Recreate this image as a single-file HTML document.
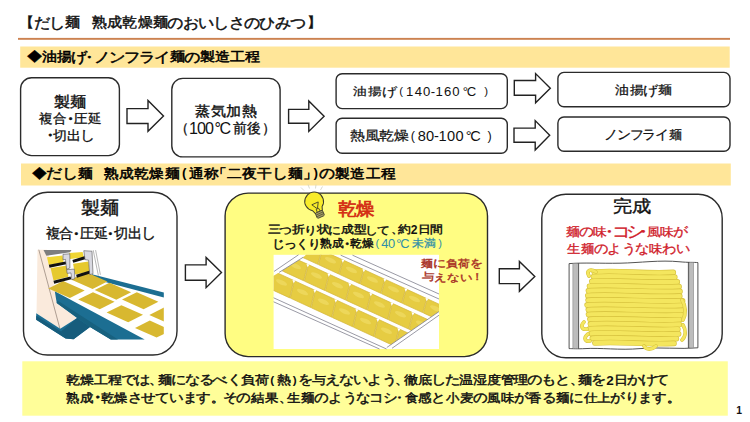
<!DOCTYPE html>
<html lang="ja"><head><meta charset="utf-8"><title>だし麺 熟成乾燥麺のおいしさのひみつ</title>
<style>
html,body{margin:0;padding:0;background:#fff;width:750px;height:422px;overflow:hidden}
svg{display:block;font-family:"Liberation Sans",sans-serif}
</style></head><body>
<svg width="750" height="422" viewBox="0 0 750 422">
<rect x="18" y="37.9" width="712" height="1.9" fill="#CC8250"/>
<rect x="20.2" y="46.5" width="709.5" height="21.2" fill="#FFE699"/>
<rect x="21" y="163.5" width="709.8" height="22" fill="#FFE699"/>
<rect x="20.6" y="77.8" width="98.80" height="77.80" rx="11" ry="11" fill="#fff" stroke="#2b2b2b" stroke-width="1.4"/>
<rect x="171.8" y="78.4" width="108.30" height="78.50" rx="11" ry="11" fill="#fff" stroke="#2b2b2b" stroke-width="1.4"/>
<rect x="336.1" y="73.8" width="171.20" height="34.80" rx="6" ry="6" fill="#fff" stroke="#2b2b2b" stroke-width="1.4"/>
<rect x="336.1" y="118.2" width="171.20" height="35.10" rx="6" ry="6" fill="#fff" stroke="#2b2b2b" stroke-width="1.4"/>
<rect x="557.9" y="72.4" width="172.10" height="34.40" rx="6" ry="6" fill="#fff" stroke="#2b2b2b" stroke-width="1.4"/>
<rect x="557.9" y="117.0" width="172.10" height="34.20" rx="6" ry="6" fill="#fff" stroke="#2b2b2b" stroke-width="1.4"/>
<path d="M127.0,108.6 L148.0,108.6 L148.0,100.4 L163.5,116.0 L148.0,131.3 L148.0,123.5 L127.0,123.5 Z" fill="#fff" stroke="#222" stroke-width="1.4" stroke-linejoin="miter"/>
<path d="M288.6,109.4 L308.8,109.4 L308.8,101.0 L324.1,116.2 L308.8,131.4 L308.8,123.3 L288.6,123.3 Z" fill="#fff" stroke="#222" stroke-width="1.4" stroke-linejoin="miter"/>
<path d="M514.3,80.5 L535.6,80.5 L535.6,73.6 L550.3,88.2 L535.6,102.8 L535.6,95.3 L514.3,95.3 Z" fill="#fff" stroke="#222" stroke-width="1.4" stroke-linejoin="miter"/>
<path d="M514.0,128.1 L535.2,128.1 L535.2,120.6 L549.7,135.3 L535.2,150.0 L535.2,142.3 L514.0,142.3 Z" fill="#fff" stroke="#222" stroke-width="1.4" stroke-linejoin="miter"/>
<rect x="23.5" y="192.3" width="153.50" height="162.70" rx="24" ry="24" fill="#fff" stroke="#2b2b2b" stroke-width="1.4"/>
<rect x="225.1" y="193.1" width="262.40" height="163.50" rx="23" ry="23" fill="#FFFD82" stroke="#2b2b2b" stroke-width="1.4"/>
<rect x="541.8" y="194.3" width="180.40" height="163.50" rx="24" ry="24" fill="#fff" stroke="#2b2b2b" stroke-width="1.4"/>
<path d="M185.4,264.9 L206.1,264.9 L206.1,257.5 L221.5,272.5 L206.1,287.7 L206.1,280.3 L185.4,280.3 Z" fill="#fff" stroke="#222" stroke-width="1.4" stroke-linejoin="miter"/>
<path d="M499.3,268.7 L519.4,268.7 L519.4,261.4 L534.8,276.4 L519.4,291.3 L519.4,283.6 L499.3,283.6 Z" fill="#fff" stroke="#222" stroke-width="1.4" stroke-linejoin="miter"/>
<rect x="22.3" y="361.3" width="705.5" height="54.4" fill="#FFFE99"/>
<g id="machine">
<polygon points="37.5,249.7 47.0,249.7 51.0,262.0 54.0,284.0 54.9,287.8 56.7,302.9 77.1,318.0 60.2,328.7 36.5,313.5 37.0,285.0" fill="#FAEADC"/>
<line x1="38.8" y1="249.7" x2="60" y2="329" stroke="#7a6a60" stroke-width="0.6"/>
<polygon points="53.7,284.1 94.0,276.5 163.8,296.0 163.8,339.5 143.7,339.5 54.8,292.4" fill="#FFFFFF"/>
<polygon points="92.0,274.2 163.8,292.6 163.8,297.6 92.0,278.6" fill="#1C6E92"/>
<polygon points="54.8,291.3 144.7,339.5 110.8,339.5 90.0,327.1 73.6,339.3 65.6,338.4 36.2,319.8 36.2,313.2 60.2,328.7 77.1,318.0 56.7,302.9" fill="#1C6E92"/>
<polygon points="36.2,315.8 61.0,331.6 65.6,338.4 36.2,319.8" fill="#165C7C"/>
<polygon points="77.1,318.0 90.0,327.1 73.6,339.3 65.6,338.4 61.0,331.6" fill="#165C7C"/>
<polygon points="56.7,302.9 90.0,327.1 110.8,339.5 118.0,339.5 57.5,300.5" fill="#17617F"/>
<clipPath id="mclip"><rect x="36" y="249" width="127.8" height="90.5"/></clipPath><g clip-path="url(#mclip)">
<polygon points="48.3,288.4 69.9,298.0 84.7,290.6 63.1,281.0" fill="#D8B830"/>
<polygon points="71.0,279.4 92.6,289.0 107.4,281.6 85.8,272.0" fill="#D8B830"/>
<polygon points="78.2,299.6 99.8,309.2 114.6,301.8 93.0,292.2" fill="#D8B830"/>
<polygon points="94.7,290.1 116.3,299.7 131.1,292.3 109.5,282.7" fill="#D8B830"/>
<polygon points="106.6,312.6 128.2,322.2 143.0,314.8 121.4,305.2" fill="#D8B830"/>
<polygon points="122.0,299.6 143.6,309.2 158.4,301.8 136.8,292.2" fill="#D8B830"/>
<polygon points="135.0,328.0 156.6,337.6 171.4,330.2 149.8,320.6" fill="#D8B830"/>
<polygon points="149.3,314.9 170.9,324.5 185.7,317.1 164.1,307.5" fill="#D8B830"/>
</g>
<polygon points="43.5,250.0 71.5,250.0 70.0,252.2 46.4,255.8" fill="#7E7E7E"/>
<polygon points="47.0,257.3 62.4,255.5 63.6,262.6 48.8,265.0" fill="#F0D633"/>
<line x1="49.2" y1="266.2" x2="67.2" y2="262.6" stroke="#111" stroke-width="3.0"/>
<polygon points="50.6,267.9 67.2,265.5 68.4,276.8 53.5,280.4" fill="#E6C92E"/>
<line x1="53.8" y1="282.2" x2="70.9" y2="277.9" stroke="#111" stroke-width="3.0"/>
<polygon points="69.0,253.1 82.6,251.9 83.8,257.3 70.1,259.0" fill="#F0D633"/>
<line x1="72.8" y1="261.4" x2="86.4" y2="257.2" stroke="#111" stroke-width="3.0"/>
<polygon points="73.1,263.8 88.5,261.4 89.7,271.5 74.9,274.4" fill="#E6C92E"/>
<line x1="76.5" y1="276.2" x2="91.2" y2="271.6" stroke="#111" stroke-width="3.0"/>
<polygon points="63.0,254.3 69.8,253.8 69.9,268.0 66.6,269.3 65.5,259.4 63.0,259.9" fill="#D9D9E1" stroke="#555" stroke-width="0.6" stroke-linejoin="round"/>
<polygon points="66.6,269.7 74.3,269.1 74.9,278.6 71.9,279.8 70.9,272.9 67.2,273.4" fill="#D9D9E1" stroke="#555" stroke-width="0.6" stroke-linejoin="round"/>
<polygon points="83.8,250.7 92.0,251.2 93.0,273.8 89.7,274.6 88.6,260.2 85.0,259.6" fill="#D9D9E1" stroke="#555" stroke-width="0.6" stroke-linejoin="round"/>
<line x1="93.2" y1="250.1" x2="98.4" y2="275.6" stroke="#8a8a8a" stroke-width="0.6"/>
<line x1="95.6" y1="250.1" x2="100.4" y2="274.8" stroke="#8a8a8a" stroke-width="0.6"/>
</g>
<g id="drying">
<rect x="273.6" y="254.8" width="165.4" height="94.2" fill="#FFFFFF"/>
<clipPath id="dclip"><polygon points="279.1,272.4 303.3,257.2 306,254.8 337,254.8 439,300 439,311.6 386.8,347.5 273.6,297.5 273.6,275.8"/></clipPath>
<g clip-path="url(#dclip)">
<polygon points="154.3,173.2 174.7,182.6 170.7,196.7 150.3,187.3" fill="#E6CC42" stroke="#D2B536" stroke-width="0.7" stroke-linejoin="round"/>
<ellipse cx="162.5" cy="182.9" rx="6" ry="2.2" transform="rotate(25 162.5 182.9)" fill="#F2E070" opacity="0.55"/>
<path d="M152.4,172.5 l1.4,3.2 l1.6,-2.8 z" fill="#FFFFFF"/>
<polygon points="175.3,182.8 195.7,192.2 191.7,206.4 171.3,197.0" fill="#E6CC42" stroke="#D2B536" stroke-width="0.7" stroke-linejoin="round"/>
<ellipse cx="183.5" cy="192.6" rx="6" ry="2.2" transform="rotate(25 183.5 192.6)" fill="#F2E070" opacity="0.55"/>
<path d="M173.4,182.2 l1.4,3.2 l1.6,-2.8 z" fill="#FFFFFF"/>
<polygon points="196.3,192.5 216.7,201.9 212.7,216.0 192.3,206.7" fill="#E6CC42" stroke="#D2B536" stroke-width="0.7" stroke-linejoin="round"/>
<ellipse cx="204.5" cy="202.3" rx="6" ry="2.2" transform="rotate(25 204.5 202.3)" fill="#F2E070" opacity="0.55"/>
<path d="M194.4,191.9 l1.4,3.2 l1.6,-2.8 z" fill="#FFFFFF"/>
<polygon points="217.3,202.2 237.7,211.5 233.7,225.7 213.3,216.3" fill="#E6CC42" stroke="#D2B536" stroke-width="0.7" stroke-linejoin="round"/>
<ellipse cx="225.5" cy="211.9" rx="6" ry="2.2" transform="rotate(25 225.5 211.9)" fill="#F2E070" opacity="0.55"/>
<path d="M215.4,201.5 l1.4,3.2 l1.6,-2.8 z" fill="#FFFFFF"/>
<polygon points="238.3,211.8 258.7,221.2 254.7,235.4 234.3,226.0" fill="#E6CC42" stroke="#D2B536" stroke-width="0.7" stroke-linejoin="round"/>
<ellipse cx="246.5" cy="221.6" rx="6" ry="2.2" transform="rotate(25 246.5 221.6)" fill="#F2E070" opacity="0.55"/>
<path d="M236.4,211.2 l1.4,3.2 l1.6,-2.8 z" fill="#FFFFFF"/>
<polygon points="259.3,221.5 279.7,230.9 275.7,245.0 255.3,235.6" fill="#E6CC42" stroke="#D2B536" stroke-width="0.7" stroke-linejoin="round"/>
<ellipse cx="267.5" cy="231.2" rx="6" ry="2.2" transform="rotate(25 267.5 231.2)" fill="#F2E070" opacity="0.55"/>
<path d="M257.4,220.8 l1.4,3.2 l1.6,-2.8 z" fill="#FFFFFF"/>
<polygon points="280.3,231.1 300.7,240.5 296.7,254.7 276.3,245.3" fill="#E6CC42" stroke="#D2B536" stroke-width="0.7" stroke-linejoin="round"/>
<ellipse cx="288.5" cy="240.9" rx="6" ry="2.2" transform="rotate(25 288.5 240.9)" fill="#F2E070" opacity="0.55"/>
<path d="M278.4,230.5 l1.4,3.2 l1.6,-2.8 z" fill="#FFFFFF"/>
<polygon points="301.3,240.8 321.7,250.2 317.7,264.3 297.3,255.0" fill="#E6CC42" stroke="#D2B536" stroke-width="0.7" stroke-linejoin="round"/>
<ellipse cx="309.5" cy="250.6" rx="6" ry="2.2" transform="rotate(25 309.5 250.6)" fill="#F2E070" opacity="0.55"/>
<path d="M299.4,240.2 l1.4,3.2 l1.6,-2.8 z" fill="#FFFFFF"/>
<polygon points="322.3,250.5 342.7,259.8 338.7,274.0 318.3,264.6" fill="#E6CC42" stroke="#D2B536" stroke-width="0.7" stroke-linejoin="round"/>
<ellipse cx="330.5" cy="260.2" rx="6" ry="2.2" transform="rotate(25 330.5 260.2)" fill="#F2E070" opacity="0.55"/>
<path d="M320.4,249.8 l1.4,3.2 l1.6,-2.8 z" fill="#FFFFFF"/>
<polygon points="343.3,260.1 363.7,269.5 359.7,283.7 339.3,274.3" fill="#E6CC42" stroke="#D2B536" stroke-width="0.7" stroke-linejoin="round"/>
<ellipse cx="351.5" cy="269.9" rx="6" ry="2.2" transform="rotate(25 351.5 269.9)" fill="#F2E070" opacity="0.55"/>
<path d="M341.4,259.5 l1.4,3.2 l1.6,-2.8 z" fill="#FFFFFF"/>
<polygon points="364.3,269.8 384.7,279.2 380.7,293.3 360.3,283.9" fill="#E6CC42" stroke="#D2B536" stroke-width="0.7" stroke-linejoin="round"/>
<ellipse cx="372.5" cy="279.6" rx="6" ry="2.2" transform="rotate(25 372.5 279.6)" fill="#F2E070" opacity="0.55"/>
<path d="M362.4,269.1 l1.4,3.2 l1.6,-2.8 z" fill="#FFFFFF"/>
<polygon points="385.3,279.4 405.7,288.8 401.7,303.0 381.3,293.6" fill="#E6CC42" stroke="#D2B536" stroke-width="0.7" stroke-linejoin="round"/>
<ellipse cx="393.5" cy="289.2" rx="6" ry="2.2" transform="rotate(25 393.5 289.2)" fill="#F2E070" opacity="0.55"/>
<path d="M383.4,278.8 l1.4,3.2 l1.6,-2.8 z" fill="#FFFFFF"/>
<polygon points="406.3,289.1 426.7,298.5 422.7,312.6 402.3,303.3" fill="#E6CC42" stroke="#D2B536" stroke-width="0.7" stroke-linejoin="round"/>
<ellipse cx="414.5" cy="298.9" rx="6" ry="2.2" transform="rotate(25 414.5 298.9)" fill="#F2E070" opacity="0.55"/>
<path d="M404.4,288.5 l1.4,3.2 l1.6,-2.8 z" fill="#FFFFFF"/>
<polygon points="427.3,298.8 447.7,308.1 443.7,322.3 423.3,312.9" fill="#E6CC42" stroke="#D2B536" stroke-width="0.7" stroke-linejoin="round"/>
<ellipse cx="435.5" cy="308.5" rx="6" ry="2.2" transform="rotate(25 435.5 308.5)" fill="#F2E070" opacity="0.55"/>
<path d="M425.4,298.1 l1.4,3.2 l1.6,-2.8 z" fill="#FFFFFF"/>
<polygon points="448.3,308.4 468.7,317.8 464.7,332.0 444.3,322.6" fill="#E6CC42" stroke="#D2B536" stroke-width="0.7" stroke-linejoin="round"/>
<ellipse cx="456.5" cy="318.2" rx="6" ry="2.2" transform="rotate(25 456.5 318.2)" fill="#F2E070" opacity="0.55"/>
<path d="M446.4,307.8 l1.4,3.2 l1.6,-2.8 z" fill="#FFFFFF"/>
<polygon points="469.3,318.1 489.7,327.5 485.7,341.6 465.3,332.2" fill="#E6CC42" stroke="#D2B536" stroke-width="0.7" stroke-linejoin="round"/>
<ellipse cx="477.5" cy="327.9" rx="6" ry="2.2" transform="rotate(25 477.5 327.9)" fill="#F2E070" opacity="0.55"/>
<path d="M467.4,317.4 l1.4,3.2 l1.6,-2.8 z" fill="#FFFFFF"/>
<polygon points="161.3,197.0 181.7,206.4 177.7,222.8 157.3,213.5" fill="#E6CC42" stroke="#D2B536" stroke-width="0.7" stroke-linejoin="round"/>
<ellipse cx="169.5" cy="207.9" rx="6" ry="2.2" transform="rotate(25 169.5 207.9)" fill="#F2E070" opacity="0.55"/>
<path d="M159.4,196.4 l1.4,3.2 l1.6,-2.8 z" fill="#FFFFFF"/>
<polygon points="182.3,206.7 202.7,216.0 198.7,232.5 178.3,223.1" fill="#E6CC42" stroke="#D2B536" stroke-width="0.7" stroke-linejoin="round"/>
<ellipse cx="190.5" cy="217.6" rx="6" ry="2.2" transform="rotate(25 190.5 217.6)" fill="#F2E070" opacity="0.55"/>
<path d="M180.4,206.0 l1.4,3.2 l1.6,-2.8 z" fill="#FFFFFF"/>
<polygon points="203.3,216.3 223.7,225.7 219.7,242.2 199.3,232.8" fill="#E6CC42" stroke="#D2B536" stroke-width="0.7" stroke-linejoin="round"/>
<ellipse cx="211.5" cy="227.2" rx="6" ry="2.2" transform="rotate(25 211.5 227.2)" fill="#F2E070" opacity="0.55"/>
<path d="M201.4,215.7 l1.4,3.2 l1.6,-2.8 z" fill="#FFFFFF"/>
<polygon points="224.3,226.0 244.7,235.4 240.7,251.8 220.3,242.4" fill="#E6CC42" stroke="#D2B536" stroke-width="0.7" stroke-linejoin="round"/>
<ellipse cx="232.5" cy="236.9" rx="6" ry="2.2" transform="rotate(25 232.5 236.9)" fill="#F2E070" opacity="0.55"/>
<path d="M222.4,225.3 l1.4,3.2 l1.6,-2.8 z" fill="#FFFFFF"/>
<polygon points="245.3,235.6 265.7,245.0 261.7,261.5 241.3,252.1" fill="#E6CC42" stroke="#D2B536" stroke-width="0.7" stroke-linejoin="round"/>
<ellipse cx="253.5" cy="246.6" rx="6" ry="2.2" transform="rotate(25 253.5 246.6)" fill="#F2E070" opacity="0.55"/>
<path d="M243.4,235.0 l1.4,3.2 l1.6,-2.8 z" fill="#FFFFFF"/>
<polygon points="266.3,245.3 286.7,254.7 282.7,271.1 262.3,261.8" fill="#E6CC42" stroke="#D2B536" stroke-width="0.7" stroke-linejoin="round"/>
<ellipse cx="274.5" cy="256.2" rx="6" ry="2.2" transform="rotate(25 274.5 256.2)" fill="#F2E070" opacity="0.55"/>
<path d="M264.4,244.7 l1.4,3.2 l1.6,-2.8 z" fill="#FFFFFF"/>
<polygon points="287.3,255.0 307.7,264.3 303.7,280.8 283.3,271.4" fill="#E6CC42" stroke="#D2B536" stroke-width="0.7" stroke-linejoin="round"/>
<ellipse cx="295.5" cy="265.9" rx="6" ry="2.2" transform="rotate(25 295.5 265.9)" fill="#F2E070" opacity="0.55"/>
<path d="M285.4,254.3 l1.4,3.2 l1.6,-2.8 z" fill="#FFFFFF"/>
<polygon points="308.3,264.6 328.7,274.0 324.7,290.5 304.3,281.1" fill="#E6CC42" stroke="#D2B536" stroke-width="0.7" stroke-linejoin="round"/>
<ellipse cx="316.5" cy="275.5" rx="6" ry="2.2" transform="rotate(25 316.5 275.5)" fill="#F2E070" opacity="0.55"/>
<path d="M306.4,264.0 l1.4,3.2 l1.6,-2.8 z" fill="#FFFFFF"/>
<polygon points="329.3,274.3 349.7,283.7 345.7,300.1 325.3,290.7" fill="#E6CC42" stroke="#D2B536" stroke-width="0.7" stroke-linejoin="round"/>
<ellipse cx="337.5" cy="285.2" rx="6" ry="2.2" transform="rotate(25 337.5 285.2)" fill="#F2E070" opacity="0.55"/>
<path d="M327.4,273.6 l1.4,3.2 l1.6,-2.8 z" fill="#FFFFFF"/>
<polygon points="350.3,283.9 370.7,293.3 366.7,309.8 346.3,300.4" fill="#E6CC42" stroke="#D2B536" stroke-width="0.7" stroke-linejoin="round"/>
<ellipse cx="358.5" cy="294.9" rx="6" ry="2.2" transform="rotate(25 358.5 294.9)" fill="#F2E070" opacity="0.55"/>
<path d="M348.4,283.3 l1.4,3.2 l1.6,-2.8 z" fill="#FFFFFF"/>
<polygon points="371.3,293.6 391.7,303.0 387.7,319.4 367.3,310.1" fill="#E6CC42" stroke="#D2B536" stroke-width="0.7" stroke-linejoin="round"/>
<ellipse cx="379.5" cy="304.5" rx="6" ry="2.2" transform="rotate(25 379.5 304.5)" fill="#F2E070" opacity="0.55"/>
<path d="M369.4,293.0 l1.4,3.2 l1.6,-2.8 z" fill="#FFFFFF"/>
<polygon points="392.3,303.3 412.7,312.6 408.7,329.1 388.3,319.7" fill="#E6CC42" stroke="#D2B536" stroke-width="0.7" stroke-linejoin="round"/>
<ellipse cx="400.5" cy="314.2" rx="6" ry="2.2" transform="rotate(25 400.5 314.2)" fill="#F2E070" opacity="0.55"/>
<path d="M390.4,302.6 l1.4,3.2 l1.6,-2.8 z" fill="#FFFFFF"/>
<polygon points="413.3,312.9 433.7,322.3 429.7,338.8 409.3,329.4" fill="#E6CC42" stroke="#D2B536" stroke-width="0.7" stroke-linejoin="round"/>
<ellipse cx="421.5" cy="323.8" rx="6" ry="2.2" transform="rotate(25 421.5 323.8)" fill="#F2E070" opacity="0.55"/>
<path d="M411.4,312.3 l1.4,3.2 l1.6,-2.8 z" fill="#FFFFFF"/>
<polygon points="434.3,322.6 454.7,332.0 450.7,348.4 430.3,339.0" fill="#E6CC42" stroke="#D2B536" stroke-width="0.7" stroke-linejoin="round"/>
<ellipse cx="442.5" cy="333.5" rx="6" ry="2.2" transform="rotate(25 442.5 333.5)" fill="#F2E070" opacity="0.55"/>
<path d="M432.4,321.9 l1.4,3.2 l1.6,-2.8 z" fill="#FFFFFF"/>
<polygon points="455.3,332.2 475.7,341.6 471.7,358.1 451.3,348.7" fill="#E6CC42" stroke="#D2B536" stroke-width="0.7" stroke-linejoin="round"/>
<ellipse cx="463.5" cy="343.2" rx="6" ry="2.2" transform="rotate(25 463.5 343.2)" fill="#F2E070" opacity="0.55"/>
<path d="M453.4,331.6 l1.4,3.2 l1.6,-2.8 z" fill="#FFFFFF"/>
<polygon points="476.3,341.9 496.7,351.3 492.7,367.7 472.3,358.4" fill="#E6CC42" stroke="#D2B536" stroke-width="0.7" stroke-linejoin="round"/>
<ellipse cx="484.5" cy="352.8" rx="6" ry="2.2" transform="rotate(25 484.5 352.8)" fill="#F2E070" opacity="0.55"/>
<path d="M474.4,341.3 l1.4,3.2 l1.6,-2.8 z" fill="#FFFFFF"/>
<polygon points="168.3,222.7 188.7,232.1 184.7,249.6 164.3,240.2" fill="#E6CC42" stroke="#D2B536" stroke-width="0.7" stroke-linejoin="round"/>
<ellipse cx="176.5" cy="234.1" rx="6" ry="2.2" transform="rotate(25 176.5 234.1)" fill="#F2E070" opacity="0.55"/>
<path d="M166.4,222.1 l1.4,3.2 l1.6,-2.8 z" fill="#FFFFFF"/>
<polygon points="189.3,232.4 209.7,241.8 205.7,259.2 185.3,249.8" fill="#E6CC42" stroke="#D2B536" stroke-width="0.7" stroke-linejoin="round"/>
<ellipse cx="197.5" cy="243.8" rx="6" ry="2.2" transform="rotate(25 197.5 243.8)" fill="#F2E070" opacity="0.55"/>
<path d="M187.4,231.7 l1.4,3.2 l1.6,-2.8 z" fill="#FFFFFF"/>
<polygon points="210.3,242.0 230.7,251.4 226.7,268.9 206.3,259.5" fill="#E6CC42" stroke="#D2B536" stroke-width="0.7" stroke-linejoin="round"/>
<ellipse cx="218.5" cy="253.5" rx="6" ry="2.2" transform="rotate(25 218.5 253.5)" fill="#F2E070" opacity="0.55"/>
<path d="M208.4,241.4 l1.4,3.2 l1.6,-2.8 z" fill="#FFFFFF"/>
<polygon points="231.3,251.7 251.7,261.1 247.7,278.5 227.3,269.2" fill="#E6CC42" stroke="#D2B536" stroke-width="0.7" stroke-linejoin="round"/>
<ellipse cx="239.5" cy="263.1" rx="6" ry="2.2" transform="rotate(25 239.5 263.1)" fill="#F2E070" opacity="0.55"/>
<path d="M229.4,251.1 l1.4,3.2 l1.6,-2.8 z" fill="#FFFFFF"/>
<polygon points="252.3,261.4 272.7,270.7 268.7,288.2 248.3,278.8" fill="#E6CC42" stroke="#D2B536" stroke-width="0.7" stroke-linejoin="round"/>
<ellipse cx="260.5" cy="272.8" rx="6" ry="2.2" transform="rotate(25 260.5 272.8)" fill="#F2E070" opacity="0.55"/>
<path d="M250.4,260.7 l1.4,3.2 l1.6,-2.8 z" fill="#FFFFFF"/>
<polygon points="273.3,271.0 293.7,280.4 289.7,297.9 269.3,288.5" fill="#E6CC42" stroke="#D2B536" stroke-width="0.7" stroke-linejoin="round"/>
<ellipse cx="281.5" cy="282.4" rx="6" ry="2.2" transform="rotate(25 281.5 282.4)" fill="#F2E070" opacity="0.55"/>
<path d="M271.4,270.4 l1.4,3.2 l1.6,-2.8 z" fill="#FFFFFF"/>
<polygon points="294.3,280.7 314.7,290.1 310.7,307.5 290.3,298.1" fill="#E6CC42" stroke="#D2B536" stroke-width="0.7" stroke-linejoin="round"/>
<ellipse cx="302.5" cy="292.1" rx="6" ry="2.2" transform="rotate(25 302.5 292.1)" fill="#F2E070" opacity="0.55"/>
<path d="M292.4,280.0 l1.4,3.2 l1.6,-2.8 z" fill="#FFFFFF"/>
<polygon points="315.3,290.3 335.7,299.7 331.7,317.2 311.3,307.8" fill="#E6CC42" stroke="#D2B536" stroke-width="0.7" stroke-linejoin="round"/>
<ellipse cx="323.5" cy="301.8" rx="6" ry="2.2" transform="rotate(25 323.5 301.8)" fill="#F2E070" opacity="0.55"/>
<path d="M313.4,289.7 l1.4,3.2 l1.6,-2.8 z" fill="#FFFFFF"/>
<polygon points="336.3,300.0 356.7,309.4 352.7,326.8 332.3,317.5" fill="#E6CC42" stroke="#D2B536" stroke-width="0.7" stroke-linejoin="round"/>
<ellipse cx="344.5" cy="311.4" rx="6" ry="2.2" transform="rotate(25 344.5 311.4)" fill="#F2E070" opacity="0.55"/>
<path d="M334.4,299.4 l1.4,3.2 l1.6,-2.8 z" fill="#FFFFFF"/>
<polygon points="357.3,309.7 377.7,319.0 373.7,336.5 353.3,327.1" fill="#E6CC42" stroke="#D2B536" stroke-width="0.7" stroke-linejoin="round"/>
<ellipse cx="365.5" cy="321.1" rx="6" ry="2.2" transform="rotate(25 365.5 321.1)" fill="#F2E070" opacity="0.55"/>
<path d="M355.4,309.0 l1.4,3.2 l1.6,-2.8 z" fill="#FFFFFF"/>
<polygon points="378.3,319.3 398.7,328.7 394.7,346.2 374.3,336.8" fill="#E6CC42" stroke="#D2B536" stroke-width="0.7" stroke-linejoin="round"/>
<ellipse cx="386.5" cy="330.7" rx="6" ry="2.2" transform="rotate(25 386.5 330.7)" fill="#F2E070" opacity="0.55"/>
<path d="M376.4,318.7 l1.4,3.2 l1.6,-2.8 z" fill="#FFFFFF"/>
<polygon points="399.3,329.0 419.7,338.4 415.7,355.8 395.3,346.4" fill="#E6CC42" stroke="#D2B536" stroke-width="0.7" stroke-linejoin="round"/>
<ellipse cx="407.5" cy="340.4" rx="6" ry="2.2" transform="rotate(25 407.5 340.4)" fill="#F2E070" opacity="0.55"/>
<path d="M397.4,328.3 l1.4,3.2 l1.6,-2.8 z" fill="#FFFFFF"/>
<polygon points="420.3,338.6 440.7,348.0 436.7,365.5 416.3,356.1" fill="#E6CC42" stroke="#D2B536" stroke-width="0.7" stroke-linejoin="round"/>
<ellipse cx="428.5" cy="350.1" rx="6" ry="2.2" transform="rotate(25 428.5 350.1)" fill="#F2E070" opacity="0.55"/>
<path d="M418.4,338.0 l1.4,3.2 l1.6,-2.8 z" fill="#FFFFFF"/>
<polygon points="441.3,348.3 461.7,357.7 457.7,375.1 437.3,365.8" fill="#E6CC42" stroke="#D2B536" stroke-width="0.7" stroke-linejoin="round"/>
<ellipse cx="449.5" cy="359.7" rx="6" ry="2.2" transform="rotate(25 449.5 359.7)" fill="#F2E070" opacity="0.55"/>
<path d="M439.4,347.7 l1.4,3.2 l1.6,-2.8 z" fill="#FFFFFF"/>
<polygon points="462.3,358.0 482.7,367.3 478.7,384.8 458.3,375.4" fill="#E6CC42" stroke="#D2B536" stroke-width="0.7" stroke-linejoin="round"/>
<ellipse cx="470.5" cy="369.4" rx="6" ry="2.2" transform="rotate(25 470.5 369.4)" fill="#F2E070" opacity="0.55"/>
<path d="M460.4,357.3 l1.4,3.2 l1.6,-2.8 z" fill="#FFFFFF"/>
<polygon points="483.3,367.6 503.7,377.0 499.7,394.5 479.3,385.1" fill="#E6CC42" stroke="#D2B536" stroke-width="0.7" stroke-linejoin="round"/>
<ellipse cx="491.5" cy="379.0" rx="6" ry="2.2" transform="rotate(25 491.5 379.0)" fill="#F2E070" opacity="0.55"/>
<path d="M481.4,367.0 l1.4,3.2 l1.6,-2.8 z" fill="#FFFFFF"/>
</g>
<line x1="274.1" y1="271.4" x2="298.5" y2="254.8" stroke="#80808E" stroke-width="0.8"/>
<line x1="279.1" y1="272.4" x2="303.3" y2="257.2" stroke="#80808E" stroke-width="0.8"/>
<line x1="340.7" y1="255.2" x2="439" y2="299.0" stroke="#80808E" stroke-width="0.8"/>
<line x1="352.5" y1="255.2" x2="439" y2="294.0" stroke="#80808E" stroke-width="0.8"/>
<line x1="273.6" y1="297.8" x2="386.5" y2="349" stroke="#80808E" stroke-width="0.8"/>
<line x1="273.6" y1="301.8" x2="379.5" y2="349" stroke="#80808E" stroke-width="0.8"/>
<line x1="439" y1="311.6" x2="386.8" y2="347.5" stroke="#80808E" stroke-width="0.8"/>
<line x1="439" y1="315.2" x2="392" y2="348.3" stroke="#80808E" stroke-width="0.8"/>
</g>
<g id="bag">
<path d="M569.1,263.6 C585,262.5 600,263.5 620,263.2 C640,262.8 660,259.8 680,261.8 C688,262.6 694,262.2 697.9,262.6 L697.9,347.8 C680,349.5 660,346.8 640,348.6 C620,350.4 600,347.6 585,348.6 C578,349 572,348.6 569.1,348.6 Z" fill="#FFFFFF" stroke="#3f3f3f" stroke-width="0.9"/>
<rect x="572.9" y="263.4" width="4.3" height="85" fill="#BDBDBD" stroke="#7a7a7a" stroke-width="0.5"/>
<line x1="578.6" y1="263.3" x2="578.6" y2="348.6" stroke="#3f3f3f" stroke-width="0.9"/>
<rect x="689.6" y="262.3" width="4.0" height="85.6" fill="#BDBDBD" stroke="#7a7a7a" stroke-width="0.5"/>
<line x1="688.4" y1="262.0" x2="688.4" y2="348.0" stroke="#3f3f3f" stroke-width="0.9"/>
<path d="M594.1,272.0 C619.1,270.0 643.3,274.0 673.3,272.4" fill="none" stroke="#D8C440" stroke-width="5.6" stroke-linecap="round"/>
<path d="M594.1,272.0 C619.1,270.0 643.3,274.0 673.3,272.4" fill="none" stroke="#F4E65E" stroke-width="4.3" stroke-linecap="round"/>
<path d="M593.4,276.7 C618.4,274.7 644.8,278.7 674.8,277.1" fill="none" stroke="#D8C440" stroke-width="5.6" stroke-linecap="round"/>
<path d="M593.4,276.7 C618.4,274.7 644.8,278.7 674.8,277.1" fill="none" stroke="#F4E65E" stroke-width="4.3" stroke-linecap="round"/>
<path d="M591.8,281.5 C616.8,279.5 647.3,283.5 677.3,281.9" fill="none" stroke="#D8C440" stroke-width="5.6" stroke-linecap="round"/>
<path d="M591.8,281.5 C616.8,279.5 647.3,283.5 677.3,281.9" fill="none" stroke="#F4E65E" stroke-width="4.3" stroke-linecap="round"/>
<path d="M589.5,286.2 C614.5,284.2 649.1,288.2 679.1,286.6" fill="none" stroke="#D8C440" stroke-width="5.6" stroke-linecap="round"/>
<path d="M589.5,286.2 C614.5,284.2 649.1,288.2 679.1,286.6" fill="none" stroke="#F4E65E" stroke-width="4.3" stroke-linecap="round"/>
<path d="M588.4,290.9 C613.4,288.9 650.0,292.9 680.0,291.3" fill="none" stroke="#D8C440" stroke-width="5.6" stroke-linecap="round"/>
<path d="M588.4,290.9 C613.4,288.9 650.0,292.9 680.0,291.3" fill="none" stroke="#F4E65E" stroke-width="4.3" stroke-linecap="round"/>
<path d="M587.8,295.7 C612.8,293.7 649.8,297.7 679.8,296.1" fill="none" stroke="#D8C440" stroke-width="5.6" stroke-linecap="round"/>
<path d="M587.8,295.7 C612.8,293.7 649.8,297.7 679.8,296.1" fill="none" stroke="#F4E65E" stroke-width="4.3" stroke-linecap="round"/>
<path d="M588.1,300.4 C613.1,298.4 652.6,302.4 682.6,300.8" fill="none" stroke="#D8C440" stroke-width="5.6" stroke-linecap="round"/>
<path d="M588.1,300.4 C613.1,298.4 652.6,302.4 682.6,300.8" fill="none" stroke="#F4E65E" stroke-width="4.3" stroke-linecap="round"/>
<path d="M587.1,305.1 C612.1,303.1 651.1,307.1 681.1,305.5" fill="none" stroke="#D8C440" stroke-width="5.6" stroke-linecap="round"/>
<path d="M587.1,305.1 C612.1,303.1 651.1,307.1 681.1,305.5" fill="none" stroke="#F4E65E" stroke-width="4.3" stroke-linecap="round"/>
<path d="M588.3,309.9 C613.3,307.9 653.3,311.9 683.3,310.3" fill="none" stroke="#D8C440" stroke-width="5.6" stroke-linecap="round"/>
<path d="M588.3,309.9 C613.3,307.9 653.3,311.9 683.3,310.3" fill="none" stroke="#F4E65E" stroke-width="4.3" stroke-linecap="round"/>
<path d="M588.5,314.6 C613.5,312.6 651.4,316.6 681.4,315.0" fill="none" stroke="#D8C440" stroke-width="5.6" stroke-linecap="round"/>
<path d="M588.5,314.6 C613.5,312.6 651.4,316.6 681.4,315.0" fill="none" stroke="#F4E65E" stroke-width="4.3" stroke-linecap="round"/>
<path d="M589.9,319.3 C614.9,317.3 649.7,321.3 679.7,319.7" fill="none" stroke="#D8C440" stroke-width="5.6" stroke-linecap="round"/>
<path d="M589.9,319.3 C614.9,317.3 649.7,321.3 679.7,319.7" fill="none" stroke="#F4E65E" stroke-width="4.3" stroke-linecap="round"/>
<path d="M590.4,324.1 C615.4,322.1 649.6,326.1 679.6,324.5" fill="none" stroke="#D8C440" stroke-width="5.6" stroke-linecap="round"/>
<path d="M590.4,324.1 C615.4,322.1 649.6,326.1 679.6,324.5" fill="none" stroke="#F4E65E" stroke-width="4.3" stroke-linecap="round"/>
<path d="M589.7,328.8 C614.7,326.8 647.9,330.8 677.9,329.2" fill="none" stroke="#D8C440" stroke-width="5.6" stroke-linecap="round"/>
<path d="M589.7,328.8 C614.7,326.8 647.9,330.8 677.9,329.2" fill="none" stroke="#F4E65E" stroke-width="4.3" stroke-linecap="round"/>
<path d="M591.2,333.5 C616.2,331.5 648.6,335.5 678.6,333.9" fill="none" stroke="#D8C440" stroke-width="5.6" stroke-linecap="round"/>
<path d="M591.2,333.5 C616.2,331.5 648.6,335.5 678.6,333.9" fill="none" stroke="#F4E65E" stroke-width="4.3" stroke-linecap="round"/>
<path d="M592.3,338.3 C617.3,336.3 646.4,340.3 676.4,338.7" fill="none" stroke="#D8C440" stroke-width="5.6" stroke-linecap="round"/>
<path d="M592.3,338.3 C617.3,336.3 646.4,340.3 676.4,338.7" fill="none" stroke="#F4E65E" stroke-width="4.3" stroke-linecap="round"/>
<path d="M594.9,343.0 C619.9,341.0 644.0,345.0 674.0,343.4" fill="none" stroke="#D8C440" stroke-width="5.6" stroke-linecap="round"/>
<path d="M594.9,343.0 C619.9,341.0 644.0,345.0 674.0,343.4" fill="none" stroke="#F4E65E" stroke-width="4.3" stroke-linecap="round"/>
<path d="M596,272 C590,268 586,271 589,276" fill="none" stroke="#D8C440" stroke-width="3.8" stroke-linecap="round"/>
<path d="M596,272 C590,268 586,271 589,276" fill="none" stroke="#F4E65E" stroke-width="2.6" stroke-linecap="round"/>
<path d="M588,334 C583,338 585,342 590,341" fill="none" stroke="#D8C440" stroke-width="3.8" stroke-linecap="round"/>
<path d="M588,334 C583,338 585,342 590,341" fill="none" stroke="#F4E65E" stroke-width="2.6" stroke-linecap="round"/>
<path d="M584,322 C580,326 582,330 587,329" fill="none" stroke="#D8C440" stroke-width="3.8" stroke-linecap="round"/>
<path d="M584,322 C580,326 582,330 587,329" fill="none" stroke="#F4E65E" stroke-width="2.6" stroke-linecap="round"/>
<path d="M644,346 C646,350 652,350 656,346" fill="none" stroke="#D8C440" stroke-width="3.8" stroke-linecap="round"/>
<path d="M644,346 C646,350 652,350 656,346" fill="none" stroke="#F4E65E" stroke-width="2.6" stroke-linecap="round"/>
<path d="M682,300 C686,306 686,314 683,320" fill="none" stroke="#D8C440" stroke-width="3.8" stroke-linecap="round"/>
<path d="M682,300 C686,306 686,314 683,320" fill="none" stroke="#F4E65E" stroke-width="2.6" stroke-linecap="round"/>
<path d="M683,325 C686,330 686,336 682,340" fill="none" stroke="#D8C440" stroke-width="3.8" stroke-linecap="round"/>
<path d="M683,325 C686,330 686,336 682,340" fill="none" stroke="#F4E65E" stroke-width="2.6" stroke-linecap="round"/>
</g>
<g id="bulb">
<line x1="301" y1="187.5" x2="304" y2="190.5" stroke="#D0D0C0" stroke-width="0.8"/>
<line x1="308" y1="184.5" x2="309.5" y2="188.5" stroke="#D0D0C0" stroke-width="0.8"/>
<line x1="316" y1="184.5" x2="315.5" y2="188.5" stroke="#D0D0C0" stroke-width="0.8"/>
<line x1="322.5" y1="186.5" x2="320.5" y2="190" stroke="#D0D0C0" stroke-width="0.8"/>
<g transform="rotate(-24 314.4 202.0)">
<path d="M309.2,209.2 A9.4,9.4 0 1 1 319.59999999999997,209.2 L318.2,213.0 L310.59999999999997,213.0 Z" fill="#F8EC2A" stroke="#3a3a2a" stroke-width="1"/>
<rect x="310.5" y="212.6" width="7.8" height="5.8" rx="1.2" fill="#A8A266" stroke="#3a3a2a" stroke-width="0.8"/>
<line x1="310.59999999999997" y1="214.6" x2="318.2" y2="214.6" stroke="#3a3a2a" stroke-width="0.6"/>
<line x1="310.59999999999997" y1="216.4" x2="318.2" y2="216.4" stroke="#3a3a2a" stroke-width="0.6"/>
<path d="M310.9,203.5 L317.9,203.5 L314.4,209.5 Z M313.2,209.0 L312.79999999999995,212.5 M315.59999999999997,209.0 L316.0,212.5" fill="none" stroke="#3a3a2a" stroke-width="0.8"/>
</g></g>
<g id="t_title"><text x="17.45" y="27.36" font-size="14.26" font-weight="normal" fill="#111" stroke="#111" stroke-width="0.46" transform="scale(1.0760,1)">【</text><text x="31.32 45.57" y="27.79" font-size="15.40" font-weight="normal" fill="#111" stroke="#111" stroke-width="0.46" transform="scale(1.0760,1)">だし</text><text x="60.58 72.84 85.10 99.35 113.61 127.86 142.12" y="27.36" font-size="14.26" font-weight="normal" fill="#111" stroke="#111" stroke-width="0.46" transform="scale(1.0760,1)">麺　熟成乾燥麺</text><text x="155.62 169.88 184.14 198.39 212.65 226.90 241.16 255.41 269.67" y="27.79" font-size="15.40" font-weight="normal" fill="#111" stroke="#111" stroke-width="0.46" transform="scale(1.0760,1)">のおいしさのひみつ</text><text x="285.03" y="27.36" font-size="14.26" font-weight="normal" fill="#111" stroke="#111" stroke-width="0.46" transform="scale(1.0760,1)">】</text></g>
<g id="t_band1"><text x="23.27 36.23 49.20" y="61.25" font-size="12.97" font-weight="normal" fill="#000" stroke="#000" stroke-width="0.50" transform="scale(1.1600,1)">◆油揚</text><text x="61.48 69.42 80.94 93.90 106.87 119.84 132.80" y="61.64" font-size="14.01" font-weight="normal" fill="#000" stroke="#000" stroke-width="0.50" transform="scale(1.1600,1)">げ・ノンフライ</text><text x="146.45" y="61.25" font-size="12.97" font-weight="normal" fill="#000" stroke="#000" stroke-width="0.50" transform="scale(1.1600,1)">麺</text><text x="158.74" y="61.64" font-size="14.01" font-weight="normal" fill="#000" stroke="#000" stroke-width="0.50" transform="scale(1.1600,1)">の</text><text x="172.39 185.36 198.32 211.29" y="61.25" font-size="12.97" font-weight="normal" fill="#000" stroke="#000" stroke-width="0.50" transform="scale(1.1600,1)">製造工程</text></g>
<g id="t_a1"><text x="50.34 65.03" y="106.64" font-size="14.70" font-weight="normal" fill="#111" stroke="#111" stroke-width="0.39" transform="scale(1.0790,1)">製麺</text></g>
<g id="t_a2"><text x="37.50 50.98" y="123.09" font-size="13.49" font-weight="normal" fill="#111" stroke="#111" stroke-width="0.31" transform="scale(1.0400,1)">複合</text><text x="58.52" y="124.71" font-size="18.21" font-weight="normal" fill="#111" stroke="#111" stroke-width="0.31" transform="scale(1.0400,1)">・</text><text x="71.21 84.69" y="123.09" font-size="13.49" font-weight="normal" fill="#111" stroke="#111" stroke-width="0.31" transform="scale(1.0400,1)">圧延</text></g>
<g id="t_a3"><text x="38.10" y="141.49" font-size="17.21" font-weight="normal" fill="#111" stroke="#111" stroke-width="0.29" transform="scale(1.0670,1)">・</text><text x="50.10 62.85" y="139.96" font-size="12.75" font-weight="normal" fill="#111" stroke="#111" stroke-width="0.29" transform="scale(1.0670,1)">切出</text><text x="74.93" y="140.34" font-size="13.77" font-weight="normal" fill="#111" stroke="#111" stroke-width="0.29" transform="scale(1.0670,1)">し</text></g>
<g id="t_b1"><text x="181.48 195.93 210.38 224.83" y="115.94" font-size="14.45" font-weight="normal" fill="#111" stroke="#111" stroke-width="0.39" transform="scale(1.0760,1)">蒸気加熱</text></g>
<g id="t_b2"><text x="177.49" y="133.01" font-size="14.02" font-weight="normal" fill="#111" stroke="#111" stroke-width="0.34" transform="scale(0.9870,1)">（</text><text x="188.94 197.04 204.93 214.51 219.45" y="134.13" font-size="16.12" font-weight="normal" fill="#111">100°C</text><text x="236.48 250.50 265.21" y="133.01" font-size="14.02" font-weight="normal" fill="#111" stroke="#111" stroke-width="0.34" transform="scale(0.9870,1)">前後）</text></g>
<g id="t_c1"><text x="282.66 294.35" y="95.36" font-size="11.40" font-weight="normal" fill="#111" stroke="#111" stroke-width="0.22" transform="scale(1.2500,1)">油揚</text><text x="305.44" y="95.70" font-size="12.31" font-weight="normal" fill="#111" stroke="#111" stroke-width="0.22" transform="scale(1.2500,1)">げ</text><text x="399.15" y="95.13" font-size="11.40" font-weight="normal" fill="#111">(</text><text x="406.10 414.65 422.94 430.76 435.48 443.94 452.32 462.69 466.77" y="96.27" font-size="13.11" font-weight="normal" fill="#111">140-160°C</text><text x="484.13" y="95.13" font-size="11.40" font-weight="normal" fill="#111">)</text></g>
<g id="t_c2"><text x="303.68 316.38 329.09 341.79" y="140.42" font-size="12.70" font-weight="normal" fill="#111" stroke="#111" stroke-width="0.26" transform="scale(1.1530,1)">熱風乾燥</text><text x="410.65" y="140.17" font-size="12.70" font-weight="normal" fill="#111">(</text><text x="417.63 425.98 433.98 438.52 447.07 455.42 465.72 470.24" y="141.44" font-size="14.60" font-weight="normal" fill="#111">80-100°C</text><text x="487.53" y="140.17" font-size="12.70" font-weight="normal" fill="#111">)</text></g>
<g id="t_d1"><text x="531.42 543.62" y="94.22" font-size="12.20" font-weight="normal" fill="#111" stroke="#111" stroke-width="0.25" transform="scale(1.1580,1)">油揚</text><text x="555.17" y="94.59" font-size="13.18" font-weight="normal" fill="#111" stroke="#111" stroke-width="0.25" transform="scale(1.1580,1)">げ</text><text x="568.02" y="94.22" font-size="12.20" font-weight="normal" fill="#111" stroke="#111" stroke-width="0.25" transform="scale(1.1580,1)">麺</text></g>
<g id="t_d2"><text x="560.91 572.77 584.64 596.51 608.38" y="138.94" font-size="12.82" font-weight="normal" fill="#111" stroke="#111" stroke-width="0.26" transform="scale(1.0770,1)">ノンフライ</text><text x="620.87" y="138.58" font-size="11.87" font-weight="normal" fill="#111" stroke="#111" stroke-width="0.26" transform="scale(1.0770,1)">麺</text></g>
<g id="t_band2"><text x="28.15" y="177.75" font-size="13.39" font-weight="normal" fill="#000" stroke="#000" stroke-width="0.53" transform="scale(1.1360,1)">◆</text><text x="40.84 54.24" y="178.15" font-size="14.46" font-weight="normal" fill="#000" stroke="#000" stroke-width="0.53" transform="scale(1.1360,1)">だし</text><text x="68.34 79.86 91.38 104.77 118.17 131.57 144.96" y="177.75" font-size="13.39" font-weight="normal" fill="#000" stroke="#000" stroke-width="0.53" transform="scale(1.1360,1)">麺　熟成乾燥麺</text><text x="181.90" y="177.48" font-size="13.39" font-weight="bold" fill="#000">(</text><text x="166.39 179.79 186.49 199.88 213.28 226.67" y="177.75" font-size="13.39" font-weight="normal" fill="#000" stroke="#000" stroke-width="0.53" transform="scale(1.1360,1)">通称「二夜干</text><text x="239.36" y="178.15" font-size="14.46" font-weight="normal" fill="#000" stroke="#000" stroke-width="0.53" transform="scale(1.1360,1)">し</text><text x="253.46 266.86" y="177.75" font-size="13.39" font-weight="normal" fill="#000" stroke="#000" stroke-width="0.53" transform="scale(1.1360,1)">麺」</text><text x="313.42" y="177.48" font-size="13.39" font-weight="bold" fill="#000">)</text><text x="280.89" y="178.15" font-size="14.46" font-weight="normal" fill="#000" stroke="#000" stroke-width="0.53" transform="scale(1.1360,1)">の</text><text x="294.99 308.38 321.78 335.17" y="177.75" font-size="13.39" font-weight="normal" fill="#000" stroke="#000" stroke-width="0.53" transform="scale(1.1360,1)">製造工程</text></g>
<g id="t_e1"><text x="76.75 94.70" y="214.02" font-size="17.96" font-weight="normal" fill="#111" stroke="#111" stroke-width="0.40" transform="scale(1.0600,1)">製麺</text></g>
<g id="t_e2"><text x="45.17 58.70" y="238.10" font-size="13.53" font-weight="normal" fill="#111" stroke="#111" stroke-width="0.32" transform="scale(1.0110,1)">複合</text><text x="66.27" y="239.72" font-size="18.27" font-weight="normal" fill="#111" stroke="#111" stroke-width="0.32" transform="scale(1.0110,1)">・</text><text x="79.00 92.53" y="238.10" font-size="13.53" font-weight="normal" fill="#111" stroke="#111" stroke-width="0.32" transform="scale(1.0110,1)">圧延</text><text x="100.09" y="239.72" font-size="18.27" font-weight="normal" fill="#111" stroke="#111" stroke-width="0.32" transform="scale(1.0110,1)">・</text><text x="112.82 126.35" y="238.10" font-size="13.53" font-weight="normal" fill="#111" stroke="#111" stroke-width="0.32" transform="scale(1.0110,1)">切出</text><text x="139.17" y="238.51" font-size="14.61" font-weight="normal" fill="#111" stroke="#111" stroke-width="0.32" transform="scale(1.0110,1)">し</text></g>
<g id="t_f1"><text x="326.54 344.24" y="214.74" font-size="17.70" font-weight="normal" fill="#D42E14" stroke="#D42E14" stroke-width="0.77" transform="scale(1.0340,1)">乾燥</text></g>
<g id="t_f2"><text x="229.64" y="233.31" font-size="10.54" font-weight="normal" fill="#111" stroke="#111" stroke-width="0.43" transform="scale(1.1650,1)">三</text><text x="239.63" y="233.63" font-size="11.38" font-weight="normal" fill="#111" stroke="#111" stroke-width="0.43" transform="scale(1.1650,1)">つ</text><text x="250.73" y="233.31" font-size="10.54" font-weight="normal" fill="#111" stroke="#111" stroke-width="0.43" transform="scale(1.1650,1)">折</text><text x="261.06" y="233.63" font-size="11.38" font-weight="normal" fill="#111" stroke="#111" stroke-width="0.43" transform="scale(1.1650,1)">り</text><text x="271.82" y="233.31" font-size="10.54" font-weight="normal" fill="#111" stroke="#111" stroke-width="0.43" transform="scale(1.1650,1)">状</text><text x="281.81" y="233.63" font-size="11.38" font-weight="normal" fill="#111" stroke="#111" stroke-width="0.43" transform="scale(1.1650,1)">に</text><text x="292.91 303.45" y="233.31" font-size="10.54" font-weight="normal" fill="#111" stroke="#111" stroke-width="0.43" transform="scale(1.1650,1)">成型</text><text x="313.44 323.98" y="233.63" font-size="11.38" font-weight="normal" fill="#111" stroke="#111" stroke-width="0.43" transform="scale(1.1650,1)">して</text><text x="335.32 341.94" y="233.31" font-size="10.54" font-weight="normal" fill="#111" stroke="#111" stroke-width="0.43" transform="scale(1.1650,1)">、約</text><text x="410.80" y="234.15" font-size="12.12" font-weight="bold" fill="#111">2</text><text x="358.49 369.04" y="233.31" font-size="10.54" font-weight="normal" fill="#111" stroke="#111" stroke-width="0.43" transform="scale(1.1650,1)">日間</text></g>
<g id="t_f3"><text x="254.87 266.07 277.81 288.83" y="247.78" font-size="12.10" font-weight="normal" fill="#111" stroke="#111" stroke-width="0.47" transform="scale(1.0670,1)">じっくり</text><text x="300.25 311.45" y="247.44" font-size="11.20" font-weight="normal" fill="#111" stroke="#111" stroke-width="0.47" transform="scale(1.0670,1)">熟成</text><text x="317.71" y="248.78" font-size="15.12" font-weight="normal" fill="#111" stroke="#111" stroke-width="0.47" transform="scale(1.0670,1)">・</text><text x="328.25 339.45" y="247.44" font-size="11.20" font-weight="normal" fill="#111" stroke="#111" stroke-width="0.47" transform="scale(1.0670,1)">乾燥</text><text x="375.54" y="247.22" font-size="11.20" font-weight="normal" fill="#2F8EA8">(</text><text x="381.17 387.94 396.29 400.25" y="248.34" font-size="12.88" font-weight="normal" fill="#2F8EA8">40°C</text><text x="386.36 397.56" y="247.44" font-size="11.20" font-weight="normal" fill="#2F8EA8" stroke="#2F8EA8" stroke-width="0.25" transform="scale(1.0670,1)">未満</text><text x="438.18" y="247.22" font-size="11.20" font-weight="normal" fill="#2F8EA8">)</text></g>
<g id="t_f4"><text x="358.33" y="266.78" font-size="10.47" font-weight="normal" fill="#A93226" stroke="#A93226" stroke-width="0.43" transform="scale(1.1760,1)">麺</text><text x="368.25" y="267.09" font-size="11.31" font-weight="normal" fill="#A93226" stroke="#A93226" stroke-width="0.43" transform="scale(1.1760,1)">に</text><text x="379.27 389.74" y="266.78" font-size="10.47" font-weight="normal" fill="#A93226" stroke="#A93226" stroke-width="0.43" transform="scale(1.1760,1)">負荷</text><text x="399.67" y="267.09" font-size="11.31" font-weight="normal" fill="#A93226" stroke="#A93226" stroke-width="0.43" transform="scale(1.1760,1)">を</text></g>
<g id="t_f5"><text x="337.79" y="280.34" font-size="9.66" font-weight="normal" fill="#A93226" stroke="#A93226" stroke-width="0.40" transform="scale(1.2500,1)">与</text><text x="347.59 357.89 368.20" y="280.63" font-size="10.43" font-weight="normal" fill="#A93226" stroke="#A93226" stroke-width="0.40" transform="scale(1.2500,1)">えない</text><text x="377.01" y="280.34" font-size="9.66" font-weight="normal" fill="#A93226" stroke="#A93226" stroke-width="0.40" transform="scale(1.2500,1)">！</text></g>
<g id="t_g1"><text x="542.06 558.86" y="212.01" font-size="16.80" font-weight="normal" fill="#111" stroke="#111" stroke-width="0.37" transform="scale(1.1310,1)">完成</text></g>
<g id="t_g2"><text x="493.31" y="235.59" font-size="11.78" font-weight="normal" fill="#D0202A" stroke="#D0202A" stroke-width="0.31" transform="scale(1.1470,1)">麺</text><text x="504.47" y="235.94" font-size="12.72" font-weight="normal" fill="#D0202A" stroke="#D0202A" stroke-width="0.31" transform="scale(1.1470,1)">の</text><text x="516.88" y="235.59" font-size="11.78" font-weight="normal" fill="#D0202A" stroke="#D0202A" stroke-width="0.31" transform="scale(1.1470,1)">味</text><text x="523.46 533.93 545.71 552.92" y="237.00" font-size="15.90" font-weight="normal" fill="#D0202A" stroke="#D0202A" stroke-width="0.31" transform="scale(1.1470,1)">・コシ・</text><text x="564.00 575.78" y="235.59" font-size="11.78" font-weight="normal" fill="#D0202A" stroke="#D0202A" stroke-width="0.31" transform="scale(1.1470,1)">風味</text><text x="586.94" y="235.94" font-size="12.72" font-weight="normal" fill="#D0202A" stroke="#D0202A" stroke-width="0.31" transform="scale(1.1470,1)">が</text></g>
<g id="t_g3"><text x="515.87 528.35" y="252.52" font-size="12.48" font-weight="normal" fill="#D0202A" stroke="#D0202A" stroke-width="0.32" transform="scale(1.0990,1)">生麺</text><text x="540.17 552.65 565.93 577.61" y="252.89" font-size="13.48" font-weight="normal" fill="#D0202A" stroke="#D0202A" stroke-width="0.32" transform="scale(1.0990,1)">のような</text><text x="590.75" y="252.52" font-size="12.48" font-weight="normal" fill="#D0202A" stroke="#D0202A" stroke-width="0.32" transform="scale(1.0990,1)">味</text><text x="602.57 615.05" y="252.89" font-size="13.48" font-weight="normal" fill="#D0202A" stroke="#D0202A" stroke-width="0.32" transform="scale(1.0990,1)">わい</text></g>
<g id="t_h1"><text x="56.69 68.45 80.21 91.97" y="383.99" font-size="11.76" font-weight="normal" fill="#111" stroke="#111" stroke-width="0.43" transform="scale(1.1720,1)">乾燥工程</text><text x="103.11 114.87" y="384.34" font-size="12.70" font-weight="normal" fill="#111" stroke="#111" stroke-width="0.43" transform="scale(1.1720,1)">では</text><text x="127.51 134.89" y="383.99" font-size="11.76" font-weight="normal" fill="#111" stroke="#111" stroke-width="0.43" transform="scale(1.1720,1)">、麺</text><text x="146.03 157.79 169.55 181.31 193.64" y="384.34" font-size="12.70" font-weight="normal" fill="#111" stroke="#111" stroke-width="0.43" transform="scale(1.1720,1)">になるべく</text><text x="205.45 217.20" y="383.99" font-size="11.76" font-weight="normal" fill="#111" stroke="#111" stroke-width="0.43" transform="scale(1.1720,1)">負荷</text><text x="270.24" y="383.75" font-size="11.76" font-weight="bold" fill="#111">(</text><text x="236.02" y="383.99" font-size="11.76" font-weight="normal" fill="#111" stroke="#111" stroke-width="0.43" transform="scale(1.1720,1)">熱</text><text x="292.86" y="383.75" font-size="11.76" font-weight="bold" fill="#111">)</text><text x="254.22" y="384.34" font-size="12.70" font-weight="normal" fill="#111" stroke="#111" stroke-width="0.43" transform="scale(1.1720,1)">を</text><text x="266.59" y="383.99" font-size="11.76" font-weight="normal" fill="#111" stroke="#111" stroke-width="0.43" transform="scale(1.1720,1)">与</text><text x="277.73 289.49 301.25 313.01 325.53" y="384.34" font-size="12.70" font-weight="normal" fill="#111" stroke="#111" stroke-width="0.43" transform="scale(1.1720,1)">えないよう</text><text x="337.41 344.79 356.55" y="383.99" font-size="11.76" font-weight="normal" fill="#111" stroke="#111" stroke-width="0.43" transform="scale(1.1720,1)">、徹底</text><text x="367.69 379.45" y="384.34" font-size="12.70" font-weight="normal" fill="#111" stroke="#111" stroke-width="0.43" transform="scale(1.1720,1)">した</text><text x="391.83 403.59 415.35 427.11 438.87" y="383.99" font-size="11.76" font-weight="normal" fill="#111" stroke="#111" stroke-width="0.43" transform="scale(1.1720,1)">温湿度管理</text><text x="450.01 461.77 473.53" y="384.34" font-size="12.70" font-weight="normal" fill="#111" stroke="#111" stroke-width="0.43" transform="scale(1.1720,1)">のもと</text><text x="486.17 493.55" y="383.99" font-size="11.76" font-weight="normal" fill="#111" stroke="#111" stroke-width="0.43" transform="scale(1.1720,1)">、麺</text><text x="504.69" y="384.34" font-size="12.70" font-weight="normal" fill="#111" stroke="#111" stroke-width="0.43" transform="scale(1.1720,1)">を</text><text x="606.21" y="384.93" font-size="13.52" font-weight="bold" fill="#111">2</text><text x="523.77" y="383.99" font-size="11.76" font-weight="normal" fill="#111" stroke="#111" stroke-width="0.43" transform="scale(1.1720,1)">日</text><text x="534.91 546.67 558.43" y="384.34" font-size="12.70" font-weight="normal" fill="#111" stroke="#111" stroke-width="0.43" transform="scale(1.1720,1)">かけて</text></g>
<g id="t_h2"><text x="59.29 71.61" y="401.61" font-size="12.32" font-weight="normal" fill="#111" stroke="#111" stroke-width="0.45" transform="scale(1.1180,1)">熟成</text><text x="78.50" y="403.09" font-size="16.63" font-weight="normal" fill="#111" stroke="#111" stroke-width="0.45" transform="scale(1.1180,1)">・</text><text x="90.09 102.42" y="401.61" font-size="12.32" font-weight="normal" fill="#111" stroke="#111" stroke-width="0.45" transform="scale(1.1180,1)">乾燥</text><text x="114.09 126.41 138.74 151.06 163.38 175.70" y="401.98" font-size="13.31" font-weight="normal" fill="#111" stroke="#111" stroke-width="0.45" transform="scale(1.1180,1)">させています</text><text x="188.94" y="401.61" font-size="12.32" font-weight="normal" fill="#111" stroke="#111" stroke-width="0.45" transform="scale(1.1180,1)">。</text><text x="199.12 211.44" y="401.98" font-size="13.31" font-weight="normal" fill="#111" stroke="#111" stroke-width="0.45" transform="scale(1.1180,1)">その</text><text x="224.41 236.74 249.33 257.07 269.39" y="401.61" font-size="12.32" font-weight="normal" fill="#111" stroke="#111" stroke-width="0.45" transform="scale(1.1180,1)">結果、生麺</text><text x="281.07 293.39 306.50 318.03 330.36 342.68 350.22" y="401.98" font-size="13.31" font-weight="normal" fill="#111" stroke="#111" stroke-width="0.45" transform="scale(1.1180,1)">のようなコシ・</text><text x="361.81 374.14" y="401.61" font-size="12.32" font-weight="normal" fill="#111" stroke="#111" stroke-width="0.45" transform="scale(1.1180,1)">食感</text><text x="385.81" y="401.98" font-size="13.31" font-weight="normal" fill="#111" stroke="#111" stroke-width="0.45" transform="scale(1.1180,1)">と</text><text x="398.78 411.10" y="401.61" font-size="12.32" font-weight="normal" fill="#111" stroke="#111" stroke-width="0.45" transform="scale(1.1180,1)">小麦</text><text x="422.78" y="401.98" font-size="13.31" font-weight="normal" fill="#111" stroke="#111" stroke-width="0.45" transform="scale(1.1180,1)">の</text><text x="435.75 448.07" y="401.61" font-size="12.32" font-weight="normal" fill="#111" stroke="#111" stroke-width="0.45" transform="scale(1.1180,1)">風味</text><text x="459.75" y="401.98" font-size="13.31" font-weight="normal" fill="#111" stroke="#111" stroke-width="0.45" transform="scale(1.1180,1)">が</text><text x="472.72" y="401.61" font-size="12.32" font-weight="normal" fill="#111" stroke="#111" stroke-width="0.45" transform="scale(1.1180,1)">香</text><text x="484.39" y="401.98" font-size="13.31" font-weight="normal" fill="#111" stroke="#111" stroke-width="0.45" transform="scale(1.1180,1)">る</text><text x="497.36" y="401.61" font-size="12.32" font-weight="normal" fill="#111" stroke="#111" stroke-width="0.45" transform="scale(1.1180,1)">麺</text><text x="509.04" y="401.98" font-size="13.31" font-weight="normal" fill="#111" stroke="#111" stroke-width="0.45" transform="scale(1.1180,1)">に</text><text x="522.01 534.33" y="401.61" font-size="12.32" font-weight="normal" fill="#111" stroke="#111" stroke-width="0.45" transform="scale(1.1180,1)">仕上</text><text x="546.01 558.73 570.65 582.98" y="401.98" font-size="13.31" font-weight="normal" fill="#111" stroke="#111" stroke-width="0.45" transform="scale(1.1180,1)">がります</text><text x="596.21" y="401.61" font-size="12.32" font-weight="normal" fill="#111" stroke="#111" stroke-width="0.45" transform="scale(1.1180,1)">。</text></g>
<g id="t_pg"><text x="736.35" y="414.28" font-size="10.37" font-weight="bold" fill="#111">1</text></g>
</svg>
</body></html>
